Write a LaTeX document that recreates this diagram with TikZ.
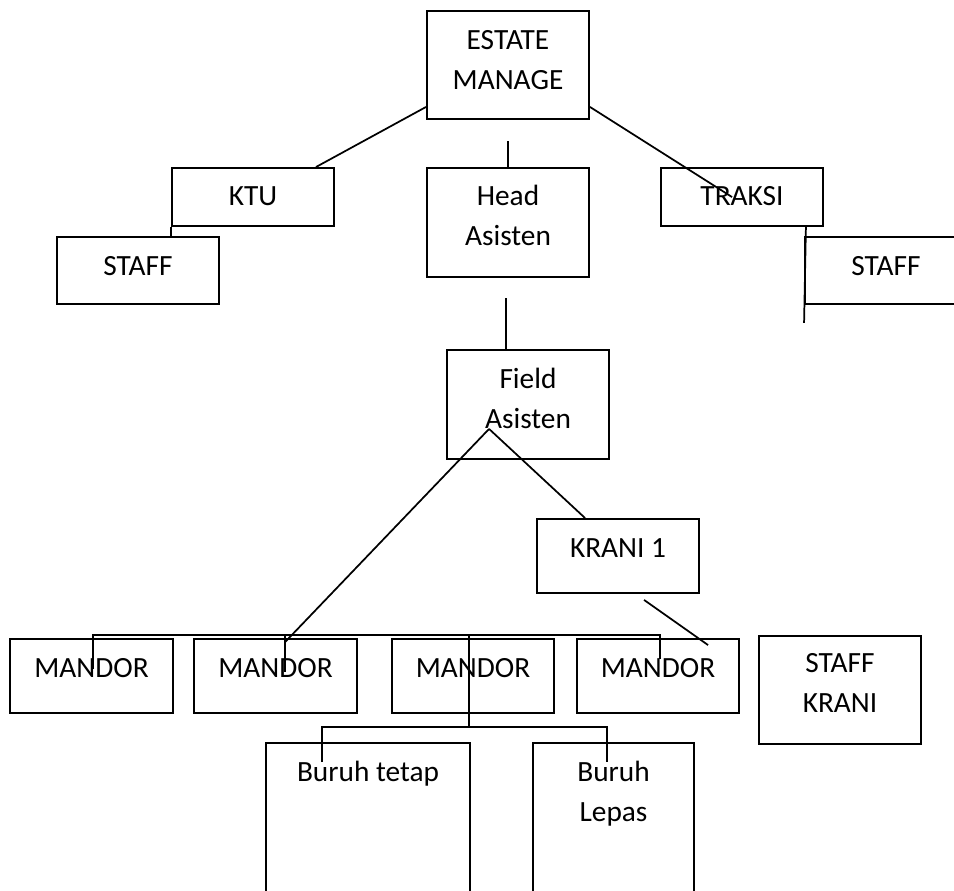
\documentclass[tikz,border=0pt]{standalone}
\usepackage{fontspec}
\setmainfont{Carlito}
\usetikzlibrary{fit}

\tikzset{
  box/.style={draw, line width=1.4pt, inner sep=0pt},
  txt/.style={anchor=base, inner sep=0pt, align=center, font=\fontsize{22}{30}\selectfont},
  link/.style={line width=1.3pt},
}

\begin{document}
\begin{tikzpicture}[x=0.75pt, y=-0.75pt]
		%%%%% START %%%%%
		\useasboundingbox (0,0) rectangle (954,891);
		\clip (0,0) rectangle (954,891);
		
		% top level
		\node[box, fit={(427,11) (589,119)}] (em) {};
		\node[txt] (em-t) at ([shift={(0,79)}]em.north) {ESTATE\\MANAGE};
		
		\node[box, fit={(172,168) (334,226)}] (ktu) {};
		\node[txt] (ktu-t) at ([shift={(0,38)}]ktu.north) {KTU};
		\node[box, fit={(427,168) (589,277)}] (head) {};
		\node[txt] (head-t) at ([shift={(0,78)}]head.north) {Head\\Asisten};
		\node[box, fit={(661,168) (823,226)}] (traksi) {};
		\node[txt] (traksi-t) at ([shift={(0,38)}]traksi.north) {TRAKSI};
		
		\node[box, fit={(57,237) (219,304)}] (staffk) {};
		\node[txt] (staffk-t) at ([shift={(0,39)}]staffk.north) {STAFF};
		\node[box, fit={(805,237) (967,304)}] (stafft) {};
		\node[txt] (stafft-t) at ([shift={(0,39)}]stafft.north) {STAFF};
		
		% field level
		\node[box, fit={(447,350) (609,459)}] (field) {};
		\node[txt] (field-t) at ([shift={(0,79)}]field.north) {Field\\Asisten};
		\node[box, fit={(537,519) (699,593)}] (krani) {};
		\node[txt] (krani-t) at ([shift={(0,39)}]krani.north) {KRANI 1};
		
		% mandor row
		\node[box, fit={(10,639) (173,713)}] (m1) {};
		\node[txt] (m1-t) at ([shift={(0,39)}]m1.north) {MANDOR};
		\node[box, fit={(194,639) (357,713)}] (m2) {};
		\node[txt] (m2-t) at ([shift={(0,39)}]m2.north) {MANDOR};
		\node[box, fit={(392,639) (554,713)}] (m3) {};
		\node[txt] (m3-t) at ([shift={(0,39)}]m3.north) {MANDOR};
		\node[box, fit={(577,639) (739,713)}] (m4) {};
		\node[txt] (m4-t) at ([shift={(0,39)}]m4.north) {MANDOR};
		\node[box, fit={(759,636) (921,744)}] (sk) {};
		\node[txt] (sk-t) at ([shift={(0,77)}]sk.north) {STAFF\\KRANI};
		
		% buruh
		\node[box, fit={(266,743) (470,920)}] (bt) {};
		\node[txt] (bt-t) at ([shift={(0,39)}]bt.north) {Buruh tetap};
		\node[box, fit={(533,743) (694,920)}] (bl) {};
		\node[txt] (bl-t) at ([shift={(0,79)}]bl.north) {Buruh\\Lepas};
		
		% connectors
		\draw[link] ([shift={(0,-13)}]em.south west) -- ([shift={(-19,0)}]ktu.north east);
		\draw[link] ([shift={(0,-13)}]em.south east) -- ([shift={(72,30)}]traksi.north west);
		\draw[link] (head.north) -- ++(0,-26);
		\draw[link] (ktu.south west) -- (ktu.south west |- staffk.north);
		\draw[link] ([shift={(-18,0)}]traksi.south east) -- ([shift={(0,18)}]stafft.south west);
		\draw[link] ([shift={(60,0)}]field.north west) -- ++(0,-51);
		
		\coordinate (fa) at ([shift={(43,-31)}]field.south west);
		\draw[link] (fa) -- ([shift={(92,4)}]m2.north west);
		\draw[link] (fa) -- ([shift={(49,0)}]krani.north west);
		\draw[link] ([shift={(108,6)}]krani.south west) -- ([shift={(132,7)}]m4.north west);
		
		\draw[link] ([shift={(84,31)}]m1.north west) |- ([shift={(84,-3)}]m4.north west) -- ++(0,24);
		\draw[link] ([shift={(92,-3)}]m2.north west) -- ++(0,37);
		\draw[link] ([shift={(78,-3)}]m3.north west) -- ([shift={(78,-15)}]bt.north west -| m3.north west);
		\draw[link] ([shift={(57,20)}]bt.north west) |- ([shift={(75,-15)}]bl.north west) -- ++(0,35);
		
		%%%%% END %%%%%
\end{tikzpicture}
\end{document}
